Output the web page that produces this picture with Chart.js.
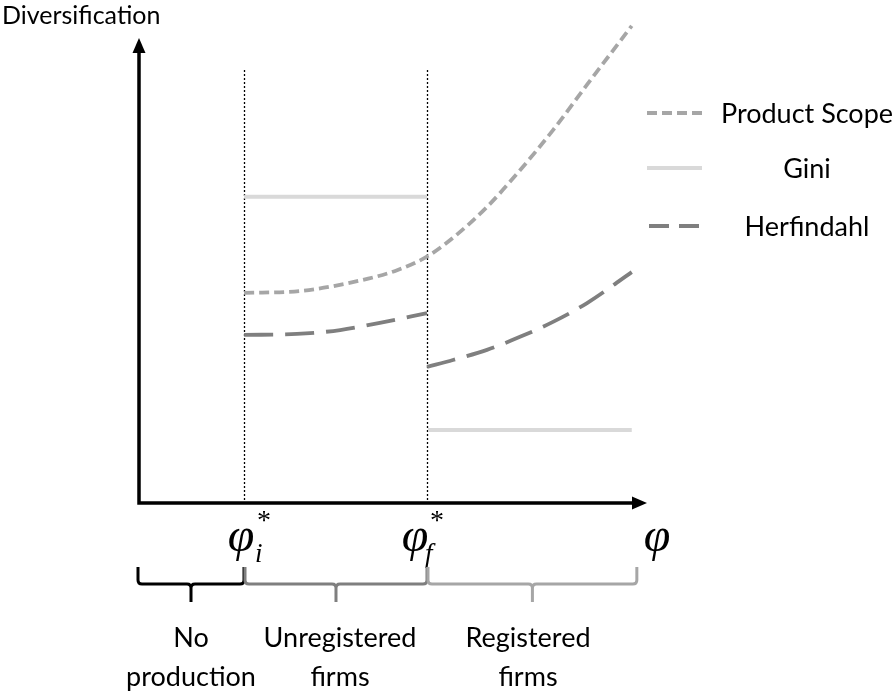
<!DOCTYPE html>
<html>
<head>
<meta charset="utf-8">
<script src="https://cdn.jsdelivr.net/npm/chart.js@4.4.1/dist/chart.umd.min.js"></script>
<style>
  html, body { margin: 0; padding: 0; background: #ffffff; }
  #c { display: block; }
</style>
</head>
<body>
<canvas id="c" width="894" height="691"></canvas>
<script>
// ---- Data (x = productivity φ, y = diversification) ----
const seriesNames = ["Product Scope", "Gini", "Herfindahl"];

const productScopeX = [20.7, 31.7, 44.1, 50.8, 56.5, 61.8, 68.5, 75.0, 81.5, 88.2, 97.0];
const productScopeY = [43.5, 43.9, 46.2, 48.2, 50.9, 54.9, 61.3, 68.9, 77.2, 86.6, 98.8];

const giniUnregX = [20.7, 56.7];
const giniUnregY = [63.4, 63.4];
const giniRegX = [56.9, 97.0];
const giniRegY = [15.1, 15.1];

const herfUnregX = [20.7, 31.1, 39.6, 47.4, 56.7];
const herfUnregY = [34.8, 35.0, 35.8, 37.3, 39.3];
const herfRegX = [56.7, 61.8, 68.5, 75.0, 81.5, 88.2, 97.0];
const herfRegY = [28.2, 29.6, 31.7, 34.4, 37.5, 41.4, 47.8];

const thresholds = [20.67, 56.69];          // φ_i*, φ_f*
const thresholdSubs = ["i", "f"];
const axisEndLabel = "φ";
const yAxisTitle = "Diversification";

const regimes = [
  { from: 0, to: 20.67, lines: ["No", "production"] },
  { from: 20.67, to: 56.69, lines: ["Unregistered", "firms"] },
  { from: 56.69, to: 98.0, lines: ["Registered", "firms"] }
];

// ---- Helpers ----
function pts(xs, ys) { return xs.map((x, i) => ({ x: x, y: ys[i] })); }

const COL_PS = "#a6a6a6";
const COL_GINI = "#d9d9d9";
const COL_HERF = "#7f7f7f";
const TEXT_FONT = "Lato, 'Open Sans', sans-serif";
const SERIF = "'Liberation Serif', 'DejaVu Serif', serif";

const lineBase = { showLine: true, pointRadius: 0, borderWidth: 3.8, fill: false, cubicInterpolationMode: 'monotone', borderCapStyle: 'butt' };

const datasets = [
  Object.assign({}, lineBase, { label: seriesNames[1], data: pts(giniUnregX, giniUnregY), borderColor: COL_GINI, borderWidth: 4 }),
  Object.assign({}, lineBase, { label: seriesNames[1], data: pts(giniRegX, giniRegY), borderColor: COL_GINI, borderWidth: 4 }),
  Object.assign({}, lineBase, { label: seriesNames[0], data: pts(productScopeX, productScopeY), borderColor: COL_PS, borderDash: [10, 5] }),
  Object.assign({}, lineBase, { label: seriesNames[2], data: pts(herfUnregX, herfUnregY), borderColor: COL_HERF, borderDash: [29, 12] }),
  Object.assign({}, lineBase, { label: seriesNames[2], data: pts(herfRegX, herfRegY), borderColor: COL_HERF, borderDash: [29, 12] })
];

// ---- Plugin: background decorations (dotted threshold lines) ----
const underlay = {
  id: 'underlay',
  beforeDatasetsDraw(chart) {
    const ctx = chart.ctx, xs = chart.scales.x, ca = chart.chartArea;
    ctx.save();
    ctx.strokeStyle = "#000";
    ctx.lineWidth = 1.3;
    ctx.setLineDash([2, 2]);
    thresholds.forEach(t => {
      const px = Math.round(xs.getPixelForValue(t)) + 0.5;
      ctx.beginPath();
      ctx.moveTo(px, 70);
      ctx.lineTo(px, ca.bottom);
      ctx.stroke();
    });
    ctx.restore();
  }
};

function brace(ctx, x1, x2, color) {
  const top = 567, hy = 584, bot = 602, r = 4;
  const mid = (x1 + x2) / 2;
  ctx.save();
  ctx.strokeStyle = color;
  ctx.lineWidth = 3;
  ctx.lineJoin = 'round';
  ctx.beginPath();
  ctx.moveTo(x1, top);
  ctx.lineTo(x1, hy - r);
  ctx.quadraticCurveTo(x1, hy, x1 + r, hy);
  ctx.lineTo(mid - r, hy);
  ctx.quadraticCurveTo(mid, hy, mid, hy + r);
  ctx.lineTo(mid, bot);
  ctx.moveTo(mid, hy + r);
  ctx.quadraticCurveTo(mid, hy, mid + r, hy);
  ctx.lineTo(x2 - r, hy);
  ctx.quadraticCurveTo(x2, hy, x2, hy - r);
  ctx.lineTo(x2, top);
  ctx.stroke();
  ctx.restore();
}

// ---- Plugin: axes, arrows, labels, legend, braces ----
const overlay = {
  id: 'overlay',
  afterDraw(chart) {
    const ctx = chart.ctx, xs = chart.scales.x, ca = chart.chartArea;
    const ox = xs.getPixelForValue(0), oy = ca.bottom;
    ctx.save();
    // axes
    ctx.strokeStyle = "#000";
    ctx.fillStyle = "#000";
    ctx.lineWidth = 3.5;
    ctx.setLineDash([]);
    ctx.beginPath();
    ctx.moveTo(ox, oy + 1.75);
    ctx.lineTo(ox, 50);
    ctx.moveTo(ox - 1.75, oy);
    ctx.lineTo(ca.right - 12, oy);
    ctx.stroke();
    // arrowheads
    ctx.beginPath();
    ctx.moveTo(ox, 38); ctx.lineTo(ox - 6.5, 53); ctx.lineTo(ox + 6.5, 53); ctx.closePath(); ctx.fill();
    ctx.beginPath();
    ctx.moveTo(ca.right, oy); ctx.lineTo(ca.right - 15, oy - 6.5); ctx.lineTo(ca.right - 15, oy + 6.5); ctx.closePath(); ctx.fill();

    // y-axis title
    ctx.font = "25px " + TEXT_FONT;
    ctx.textAlign = "left";
    ctx.textBaseline = "alphabetic";
    ctx.fillStyle = "#000";
    ctx.fillText(yAxisTitle, 2, 24);

    // greek threshold labels
    const phiOff = [-3, -12], subOff = [11, -2], starOff = [20, 10];
    thresholds.forEach((t, i) => {
      const px = xs.getPixelForValue(t);
      ctx.textAlign = "center";
      ctx.font = "italic 48px " + SERIF;
      ctx.fillText("φ", px + phiOff[i], 551);
      ctx.textAlign = "left";
      ctx.font = "italic 27px " + SERIF;
      ctx.fillText(thresholdSubs[i], px + subOff[i], 562);
      ctx.textAlign = "center";
      ctx.font = "28px " + SERIF;
      ctx.fillText("*", px + starOff[i], 529);
    });
    ctx.textAlign = "center";
    ctx.font = "italic 48px " + SERIF;
    ctx.fillText(axisEndLabel, 657, 551);

    // braces
    const braceCols = ["#000000", "#7f7f7f", "#a6a6a6"];
    regimes.forEach((r, i) => {
      const a = xs.getPixelForValue(r.from) + (i === 0 ? -1 : 1);
      const b = xs.getPixelForValue(r.to);
      brace(ctx, a, b, braceCols[i]);
    });
    // regime labels
    ctx.fillStyle = "#000";
    ctx.font = "27px " + TEXT_FONT;
    ctx.textAlign = "center";
    const labelCenters = [191, 340, 528];
    regimes.forEach((r, i) => {
      ctx.fillText(r.lines[0], labelCenters[i], 647);
      ctx.fillText(r.lines[1], labelCenters[i], 686);
    });

    // legend
    const leg = [
      { name: seriesNames[0], col: COL_PS, dash: [10, 5], y: 113, x1: 647, x2: 702, w: 3.8 },
      { name: seriesNames[1], col: COL_GINI, dash: [], y: 168, x1: 647, x2: 702, w: 4 },
      { name: seriesNames[2], col: COL_HERF, dash: [20, 10], y: 226, x1: 649, x2: 699, w: 3.8 }
    ];
    leg.forEach(l => {
      ctx.strokeStyle = l.col;
      ctx.lineWidth = l.w;
      ctx.setLineDash(l.dash);
      ctx.beginPath();
      ctx.moveTo(l.x1, l.y);
      ctx.lineTo(l.x2, l.y);
      ctx.stroke();
      ctx.setLineDash([]);
      ctx.fillStyle = "#000";
      ctx.font = "27px " + TEXT_FONT;
      ctx.textAlign = "center";
      ctx.textBaseline = "middle";
      ctx.fillText(l.name, 807, l.y + 1);
    });
    ctx.restore();
  }
};

new Chart(document.getElementById('c'), {
  type: 'scatter',
  data: { datasets: datasets },
  options: {
    responsive: false,
    devicePixelRatio: 1,
    animation: false,
    layout: { padding: { left: 139, right: 247, top: 20, bottom: 188 } },
    plugins: { legend: { display: false }, tooltip: { enabled: false } },
    scales: {
      x: { type: 'linear', min: 0, max: 100, display: false },
      y: { type: 'linear', min: 0, max: 100, display: false }
    }
  },
  plugins: [underlay, overlay]
});
</script>
</body>
</html>
